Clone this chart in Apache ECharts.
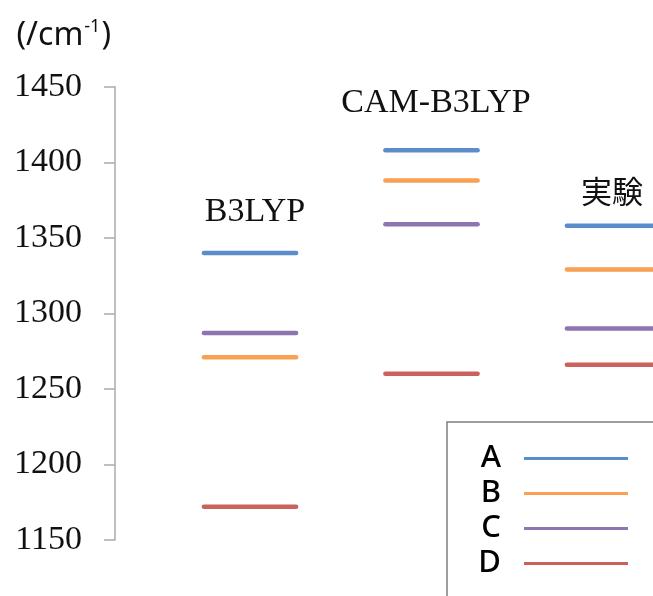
<!DOCTYPE html>
<html>
<head>
<meta charset="utf-8">
<script src="https://cdn.jsdelivr.net/npm/echarts@6/dist/echarts.min.js"></script>
<style>html,body{margin:0;padding:0;background:#fff}#c{width:653px;height:596px}</style>
</head>
<body>
<div id="c"></div>
<script>
// ---- data ----
var categories = ['B3LYP', 'CAM-B3LYP', '実験'];
var seriesNames = ['A', 'B', 'C', 'D'];
var valuesA = [1340, 1408, 1358];
var valuesB = [1271, 1388, 1329];
var valuesC = [1287, 1359, 1290];
var valuesD = [1172, 1260, 1266];
var yTicks = [1150, 1200, 1250, 1300, 1350, 1400, 1450];

var colors = ['#5b8dcb', '#f9a053', '#8e74b0', '#cb615c'];
var allValues = [valuesA, valuesB, valuesC, valuesD];

var chart = echarts.init(document.getElementById('c'), null, {renderer: 'canvas'});

function renderLevel(params, api) {
  var c = api.coord([api.value(0), api.value(1)]);
  var band = api.size([1, 0])[0];
  var half = band * 0.254;
  return {
    type: 'line',
    shape: {x1: c[0] - half, y1: c[1], x2: c[0] + half, y2: c[1]},
    style: {stroke: api.visual('color'), lineWidth: 4.5, lineCap: 'round'}
  };
}

var series = seriesNames.map(function (n, k) {
  return {
    name: n,
    type: 'custom',
    renderItem: renderLevel,
    clip: false,
    itemStyle: {color: colors[k]},
    encode: {x: 0, y: 1},
    data: categories.map(function (cat, i) { return [i, allValues[k][i]]; })
  };
});

var serif = '"Liberation Serif", "Times New Roman", serif';
var sans = '"Noto Sans", sans-serif';

chart.setOption({
  backgroundColor: '#ffffff',
  animation: false,
  color: colors,
  grid: {left: 159.25, top: 86.7, width: 544.5, bottom: 56, containLabel: false, outerBoundsMode: 'none'},
  xAxis: {
    type: 'category',
    data: categories,
    show: false,
    boundaryGap: true
  },
  yAxis: {
    type: 'value',
    min: yTicks[0],
    max: yTicks[yTicks.length - 1],
    interval: 50,
    offset: 44.25,
    name: '{a|(/cm}{s|-1}{a|)}',
    nameLocation: 'end',
    nameGap: 33,
    nameTextStyle: {
      align: 'right',
      verticalAlign: 'bottom',
      padding: [0, 4, 0, 0],
      rich: {
        a: {fontFamily: sans, fontSize: 32, color: '#111', lineHeight: 36},
        s: {fontFamily: sans, fontSize: 18, color: '#111', verticalAlign: 'top', lineHeight: 36, padding: [0, 1, 12, 1]}
      }
    },
    axisLine: {show: true, lineStyle: {color: '#aaaaaa', width: 1.5}},
    axisTick: {show: true, length: 11, lineStyle: {color: '#aaaaaa', width: 1.5}},
    axisLabel: {
      margin: 33,
      fontFamily: serif,
      fontSize: 34,
      color: '#111',
      formatter: function (v) { return String(v); }
    },
    splitLine: {show: false}
  },
  legend: {
    orient: 'vertical',
    left: 447,
    top: 422,
    width: 260,
    height: 260,
    padding: [19, 60, 60, 30],
    borderColor: '#7f7f7f',
    borderWidth: 1.5,
    backgroundColor: '#ffffff',
    align: 'right',
    icon: 'rect',
    itemWidth: 104,
    itemHeight: 3,
    itemGap: 0,
    selectedMode: false,
    data: seriesNames,
    textStyle: {
      fontFamily: sans,
      fontSize: 31,
      fontWeight: 500,
      color: '#000',
      width: 24,
      align: 'right',
      lineHeight: 28,
      padding: [7, 18, 0, 0]
    }
  },
  graphic: [
    {type: 'text', x: 255, y: 212, style: {text: categories[0], font: '34px ' + serif, fill: '#111', textAlign: 'center', textVerticalAlign: 'middle'}},
    {type: 'text', x: 436, y: 103, style: {text: categories[1], font: '34px ' + serif, fill: '#111', textAlign: 'center', textVerticalAlign: 'middle'}},
    {type: 'text', x: 612, y: 191, style: {text: categories[2], font: '31px "Noto Sans CJK JP", sans-serif', fill: '#111', textAlign: 'center', textVerticalAlign: 'middle'}}
  ],
  series: series
});
</script>
</body>
</html>
